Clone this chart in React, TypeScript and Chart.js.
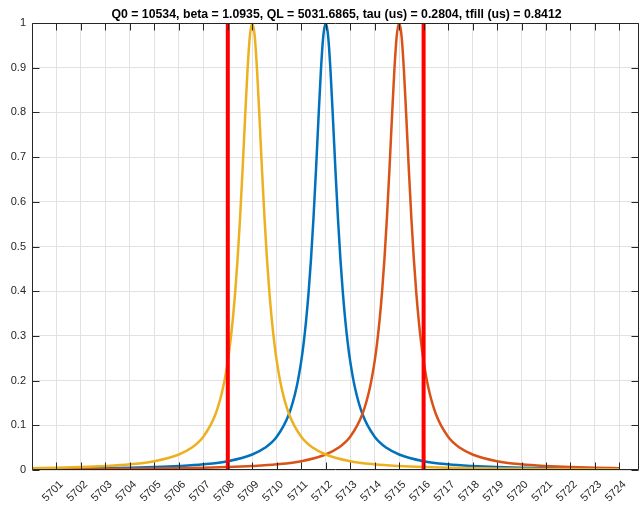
import React, { useEffect, useRef } from "react";
import { Chart, registerables } from "chart.js";

Chart.register(...registerables);

const TITLE =
  "Q0 = 10534, beta = 1.0935, QL = 5031.6865, tau (us) = 0.2804, tfill (us) = 0.8412";

// Resonance response of the lower cavity (yellow)
const yellowFreq = [
  5700, 5701, 5702, 5703, 5704, 5705, 5706, 5706.5, 5707, 5707.5, 5707.8,
  5708, 5708.1, 5708.2, 5708.3, 5708.4, 5708.5, 5708.6, 5708.7, 5708.8, 5708.9,
  5709, 5709.1, 5709.2, 5709.3, 5709.4, 5709.5, 5709.6, 5709.7, 5709.8, 5709.9,
  5710, 5710.2, 5710.5, 5711, 5711.5, 5712, 5713, 5714, 5715, 5716, 5717,
  5719, 5721, 5724,
];
const yellowMag = [
  0.004, 0.005, 0.0065, 0.0089, 0.0127, 0.0197, 0.0346, 0.049, 0.0745, 0.1253,
  0.1828, 0.2437, 0.2846, 0.3348, 0.3967, 0.4723, 0.5631, 0.6682, 0.7816,
  0.8896, 0.9699, 1, 0.9699, 0.8896, 0.7816, 0.6682, 0.5631, 0.4723, 0.3967,
  0.3348, 0.2846, 0.2437, 0.1828, 0.1253, 0.0745, 0.049, 0.0346, 0.0197,
  0.0127, 0.0089, 0.0065, 0.005, 0.0032, 0.0022, 0.0014,
];

// Centre cavity (blue)
const blueFreq = [
  5700, 5702, 5704, 5705, 5706, 5707, 5708, 5709, 5709.5, 5710, 5710.5, 5710.8,
  5711, 5711.1, 5711.2, 5711.3, 5711.4, 5711.5, 5711.6, 5711.7, 5711.8, 5711.9,
  5712, 5712.1, 5712.2, 5712.3, 5712.4, 5712.5, 5712.6, 5712.7, 5712.8, 5712.9,
  5713, 5713.2, 5713.5, 5714, 5714.5, 5715, 5716, 5717, 5718, 5719, 5720,
  5722, 5724,
];
const blueMag = [
  0.0022, 0.0032, 0.005, 0.0065, 0.0089, 0.0127, 0.0197, 0.0346, 0.049, 0.0745,
  0.1253, 0.1828, 0.2437, 0.2846, 0.3348, 0.3967, 0.4723, 0.5631, 0.6682,
  0.7816, 0.8896, 0.9699, 1, 0.9699, 0.8896, 0.7816, 0.6682, 0.5631, 0.4723,
  0.3967, 0.3348, 0.2846, 0.2437, 0.1828, 0.1253, 0.0745, 0.049, 0.0346,
  0.0197, 0.0127, 0.0089, 0.0065, 0.005, 0.0032, 0.0022,
];

// Upper cavity (orange)
const orangeFreq = [
  5700, 5703, 5705, 5707, 5708, 5709, 5710, 5711, 5712, 5712.5, 5713, 5713.5,
  5713.8, 5714, 5714.1, 5714.2, 5714.3, 5714.4, 5714.5, 5714.6, 5714.7, 5714.8,
  5714.9, 5715, 5715.1, 5715.2, 5715.3, 5715.4, 5715.5, 5715.6, 5715.7, 5715.8,
  5715.9, 5716, 5716.2, 5716.5, 5717, 5717.5, 5718, 5719, 5720, 5721, 5722,
  5723, 5724,
];
const orangeMag = [
  0.0014, 0.0022, 0.0032, 0.005, 0.0065, 0.0089, 0.0127, 0.0197, 0.0346, 0.049,
  0.0745, 0.1253, 0.1828, 0.2437, 0.2846, 0.3348, 0.3967, 0.4723, 0.5631,
  0.6682, 0.7816, 0.8896, 0.9699, 1, 0.9699, 0.8896, 0.7816, 0.6682, 0.5631,
  0.4723, 0.3967, 0.3348, 0.2846, 0.2437, 0.1828, 0.1253, 0.0745, 0.049,
  0.0346, 0.0197, 0.0127, 0.0089, 0.0065, 0.005, 0.004,
];

// Band edge markers
const markerFreqs = [5708, 5716];

const xTickValues = [
  5701, 5702, 5703, 5704, 5705, 5706, 5707, 5708, 5709, 5710, 5711, 5712,
  5713, 5714, 5715, 5716, 5717, 5718, 5719, 5720, 5721, 5722, 5723, 5724,
];
const yTickValues = [0, 0.1, 0.2, 0.3, 0.4, 0.5, 0.6, 0.7, 0.8, 0.9, 1];
const yTickLabels = ["0", "0.1", "0.2", "0.3", "0.4", "0.5", "0.6", "0.7", "0.8", "0.9", "1"];

const X_MIN = 5700;
const X_MAX = 5724.8;

const FONT = "'Liberation Sans', Arial, Helvetica, sans-serif";
const AXIS_COLOR = "#262626";

const toPoints = (xs: number[], ys: number[]) => xs.map((x, i) => ({ x, y: ys[i] }));

// Title centred over the plot area rather than the whole canvas
const axesTitlePlugin = {
  id: "axesTitle",
  afterDraw(chart: any) {
    const { ctx, chartArea: a } = chart;
    ctx.save();
    ctx.fillStyle = "#000";
    ctx.font = `bold 12.3px ${FONT}`;
    ctx.textAlign = "center";
    ctx.textBaseline = "alphabetic";
    ctx.fillText(TITLE, (a.left + a.right) / 2 + 1, a.top - 5.5);
    ctx.restore();
  },
};

// Box around the plot with inward tick marks on all four sides
const boxPlugin = {
  id: "boxTicks",
  afterDraw(chart: any) {
    const { ctx, chartArea: a, scales } = chart;
    const L = Math.round(a.left) + 0.5;
    const R = Math.round(a.right) - 0.5;
    const T = Math.round(a.top) + 0.5;
    const B = Math.round(a.bottom) - 0.5;
    const len = 7;
    ctx.save();
    ctx.strokeStyle = AXIS_COLOR;
    ctx.lineWidth = 1;
    ctx.beginPath();
    ctx.moveTo(L, T);
    ctx.lineTo(R, T);
    ctx.lineTo(R, B);
    ctx.lineTo(L, B);
    ctx.closePath();
    xTickValues.forEach((v) => {
      const px = Math.round(scales.x.getPixelForValue(v)) + 0.5;
      ctx.moveTo(px, B);
      ctx.lineTo(px, B - len);
      ctx.moveTo(px, T);
      ctx.lineTo(px, T + len);
    });
    yTickValues.forEach((v) => {
      const py = Math.round(scales.y.getPixelForValue(v)) + 0.5;
      ctx.moveTo(L, py);
      ctx.lineTo(L + len, py);
      ctx.moveTo(R, py);
      ctx.lineTo(R - len, py);
    });
    ctx.stroke();
    ctx.restore();
  },
};

export default function App() {
  const canvasRef = useRef<HTMLCanvasElement | null>(null);

  useEffect(() => {
    const canvas = canvasRef.current;
    if (!canvas) return;

    const curve = (label: string, xs: number[], ys: number[], color: string, order: number) => ({
      label,
      data: toPoints(xs, ys),
      borderColor: color,
      backgroundColor: color,
      borderWidth: 2.5,
      pointRadius: 0,
      cubicInterpolationMode: "monotone" as const,
      order,
    });

    const marker = (f: number) => ({
      label: `f = ${f}`,
      data: [
        { x: f, y: 0 },
        { x: f, y: 1 },
      ],
      borderColor: "#FF0000",
      backgroundColor: "#FF0000",
      borderWidth: 4,
      pointRadius: 0,
      order: 0,
    });

    const chart = new Chart(canvas, {
      type: "line",
      data: {
        datasets: [
          ...markerFreqs.map(marker),
          curve("yellow", yellowFreq, yellowMag, "#EDB120", 1),
          curve("orange", orangeFreq, orangeMag, "#D95319", 2),
          curve("blue", blueFreq, blueMag, "#0072BD", 3),
        ],
      },
      options: {
        animation: false,
        responsive: false,
        devicePixelRatio: 1,
        events: [],
        layout: { padding: { left: 0, right: 2, top: 23, bottom: 0 } },
        plugins: {
          legend: { display: false },
          tooltip: { enabled: false },
          title: { display: false },
        },
        scales: {
          x: {
            type: "linear",
            min: X_MIN,
            max: X_MAX,
            afterBuildTicks: (scale: any) => {
              scale.ticks = xTickValues.map((value) => ({ value }));
            },
            afterFit: (scale: any) => {
              scale.height = 35;
              scale.paddingLeft = 0;
              scale.paddingRight = 0;
            },
            border: { display: false },
            grid: { color: "#E2E2E2", lineWidth: 1, drawTicks: false },
            ticks: {
              autoSkip: false,
              maxRotation: 45,
              minRotation: 45,
              padding: 8,
              labelOffset: 5,
              color: AXIS_COLOR,
              font: { family: FONT, size: 11 },
              callback: (v: any) => String(v),
            },
          },
          y: {
            type: "linear",
            min: 0,
            max: 1,
            afterBuildTicks: (scale: any) => {
              scale.ticks = yTickValues.map((value) => ({ value }));
            },
            afterFit: (scale: any) => {
              scale.width = 32;
              scale.paddingTop = 0;
              scale.paddingBottom = 0;
            },
            border: { display: false },
            grid: { color: "#E2E2E2", lineWidth: 1, drawTicks: false },
            ticks: {
              padding: 6,
              color: AXIS_COLOR,
              font: { family: FONT, size: 11 },
              callback: (_v: any, i: number) => yTickLabels[i],
            },
          },
        },
      },
      plugins: [boxPlugin, axesTitlePlugin],
    } as any);

    return () => chart.destroy();
  }, []);

  return (
    <div style={{ position: "fixed", left: 0, top: 0, width: 641, height: 505, background: "#fff" }}>
      <canvas ref={canvasRef} width={641} height={505} style={{ display: "block" }} />
    </div>
  );
}
